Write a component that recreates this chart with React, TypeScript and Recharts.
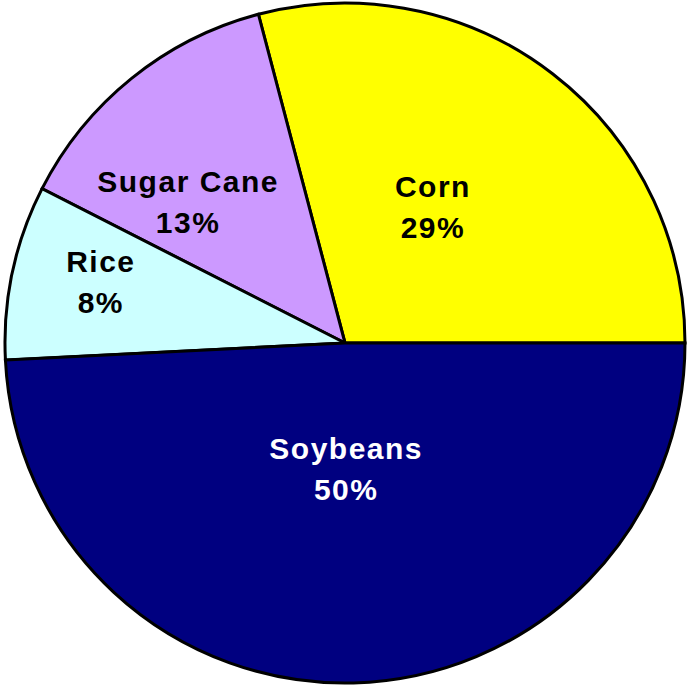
import { PieChart, Pie, Cell } from 'recharts';

const crops = ['Corn', 'Sugar Cane', 'Rice', 'Soybeans'];
const shares = [29.1, 13.4, 8.3, 49.2];
const pctLabels = ['29%', '13%', '8%', '50%'];
const sliceColors = ['#FFFF00', '#CC99FF', '#CCFFFF', '#000080'];
const labelColors = ['#000000', '#000000', '#000000', '#FFFFFF'];

// where each label sits: fraction of radius + angle nudge (deg) from the slice middle
const labelSpots = [
  { r: 0.476, da: 4.7 },
  { r: 0.62, da: 9.2 },
  { r: 0.74, da: -1.9 },
  { r: 0.37, da: -0.9 },
];

const chartData = crops.map((name, i) => ({ name, value: shares[i], pct: pctLabels[i] }));

const RAD = Math.PI / 180;

const SliceLabel = (props: any) => {
  const { cx, cy, outerRadius, midAngle, index } = props;
  const spot = labelSpots[index];
  const a = (midAngle + spot.da) * RAD;
  const x = cx + outerRadius * spot.r * Math.cos(a);
  const y = cy - outerRadius * spot.r * Math.sin(a);
  return (
    <text
      x={x}
      y={y}
      textAnchor="middle"
      fill={labelColors[index]}
      style={{
        fontFamily: '"Liberation Sans", Arial, sans-serif',
        fontWeight: 700,
        fontSize: 30,
        letterSpacing: 1.5,
      }}
    >
      <tspan x={x} dy={-10}>{chartData[index].name}</tspan>
      <tspan x={x} dy={41}>{chartData[index].pct}</tspan>
    </text>
  );
};

export default function App() {
  return (
    <div style={{ position: 'absolute', left: 0, top: 0, width: 688, height: 686, background: '#fff' }}>
      <PieChart width={688} height={686} margin={{ top: 0, right: 0, bottom: 0, left: 0 }}>
        <Pie
          data={chartData}
          dataKey="value"
          nameKey="name"
          cx={345}
          cy={343}
          outerRadius={340}
          startAngle={0}
          endAngle={360}
          stroke="#000"
          strokeWidth={3}
          labelLine={false}
          label={SliceLabel}
          isAnimationActive={false}
        >
          {chartData.map((d, i) => (
            <Cell key={d.name} fill={sliceColors[i]} />
          ))}
        </Pie>
      </PieChart>
    </div>
  );
}
